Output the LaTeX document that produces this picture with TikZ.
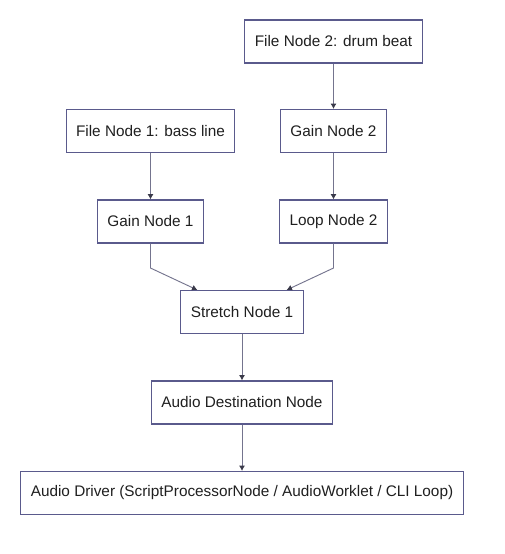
\documentclass[tikz,border=0pt]{standalone}
\usepackage{fontspec}
\setmainfont{Liberation Sans}
\usetikzlibrary{arrows.meta}
\definecolor{boxline}{HTML}{5A5A8C}
\definecolor{edgeline}{HTML}{74748E}
\definecolor{tipfill}{HTML}{3A3A4A}
\tikzset{
    block/.style={draw=boxline, line width=0.8pt, minimum height=32.25pt,
        inner xsep=7.5pt, text=black!88, font=\fontsize{11.5}{13}\selectfont},
    link/.style={draw=edgeline, line width=0.7pt,
        -{Latex[length=4pt,width=4.5pt,color=tipfill]}}
}
\begin{document}
\begin{tikzpicture}[x=0.75pt, y=-0.75pt]
        \useasboundingbox (0,0) rectangle (504,554);
        % sources
        \node[block] (file2) at (333.5,41.5) {File Node 2: drum beat};
        \node[block] (file1) at (150.5,131) {File Node 1: bass line};
        \node[block] (gain2) at (333.5,131) {Gain Node 2};
        \node[block] (gain1) at (150.5,221.5) {Gain Node 1};
        \node[block] (loop2) at (333.5,221.5) {Loop Node 2};
        % mix and output
        \node[block] (stretch) at (242,312) {Stretch Node 1};
        \node[block] (dest) at (242,402.5) {Audio Destination Node};
        \node[block] (driver) at (242,493) {Audio Driver (ScriptProcessorNode / AudioWorklet / CLI Loop)};
        \draw[link] (file2.south) -- (gain2.north);
        \draw[link] (file1.south) -- (gain1.north);
        \draw[link] (gain2.south) -- (loop2.north);
        \draw[link] (gain1.south) -- +(0,24.5) -- ([xshift=12.75pt]stretch.north west);
        \draw[link] (loop2.south) -- +(0,24.5) -- ([xshift=-12.75pt]stretch.north east);
        \draw[link] (stretch.south) -- (dest.north);
        \draw[link] (dest.south) -- (driver.north);
\end{tikzpicture}
\end{document}
